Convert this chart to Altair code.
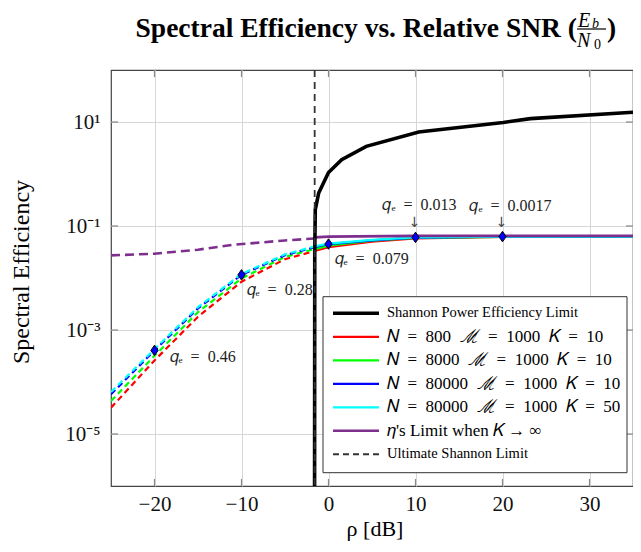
import json
import altair as alt
import pandas as pd

# ---------------- data ----------------
x_ticks = [-20, -10, 0, 10, 20, 30]
y_ticks = [1e-5, 1e-3, 1e-1, 1e1]
y_tick_exp = [-5, -3, -1, 1]
y_tick_text = ["10⁻⁵", "10⁻³", "10⁻¹", "10¹"]

shannon_x = [-1.6, -1.58, -1.52, -1.13, 0.0, 1.51, 4.34, 10.37, 20.08, 23.2, 35.0]
shannon_y = [1e-6, 0.030, 0.206, 0.43, 1.07, 1.88, 3.4, 6.4, 9.8, 11.6, 15.4]
ultimate_limit_x = [-1.59]

low_x = [-25, -20, -15, -10, -5, -1.6]
high_x = [-1.6, 0, 5, 10, 20, 35]
red_low = [3.2e-5, 2.6e-4, 1.8e-3, 8.5e-3, 0.023, 0.033]
red_high = [0.033, 0.039, 0.050, 0.058, 0.0615, 0.0625]
green_low = [4.3e-5, 3.2e-4, 2.2e-3, 9.8e-3, 0.0255, 0.036]
green_high = [0.036, 0.042, 0.052, 0.059, 0.062, 0.0628]
blue_low = [5.8e-5, 4.05e-4, 2.6e-3, 0.0115, 0.0275, 0.039]
blue_high = [0.039, 0.045, 0.053, 0.060, 0.0625, 0.063]
cyan_low = [6.4e-5, 4.3e-4, 2.75e-3, 0.012, 0.0285, 0.0405]
cyan_high = [0.0405, 0.046, 0.054, 0.0605, 0.0627, 0.0632]
purple_low_x = [-25, -20, -15, -11, -5, -1.6]
purple_low = [0.0272, 0.0293, 0.035, 0.0434, 0.0528, 0.0575]
purple_high_x = [-1.6, 0, 10, 35]
purple_high = [0.0605, 0.0625, 0.0645, 0.065]

marker_x = [-20, -10, 0, 10, 20]
marker_y = [4.05e-4, 0.0115, 0.045, 0.0604, 0.0625]
E = "\u2002"
marker_text = [f"𝑞ₑ{E}={E}0.46", f"𝑞ₑ{E}={E}0.28", f"𝑞ₑ{E}={E}0.079",
               f"𝑞ₑ{E}={E}0.013", f"𝑞ₑ{E}={E}0.0017"]

legend_text = [
    "Shannon Power Efficiency Limit",
    f"𝑁{E}={E}800{E}ℳ{E}={E}1000{E}𝐾{E}={E}10",
    f"𝑁{E}={E}8000{E}ℳ{E}={E}1000{E}𝐾{E}={E}10",
    f"𝑁{E}={E}80000{E}ℳ{E}={E}1000{E}𝐾{E}={E}10",
    f"𝑁{E}={E}80000{E}ℳ{E}={E}1000{E}𝐾{E}={E}50",
    "𝜂's Limit when 𝐾 → ∞",
    "Ultimate Shannon Limit",
]
legend_colors = ["#000000", "#ff0000", "#00ff00", "#0000ff", "#00ffff", "#7e2f8e", "#333333"]

# ---------------- layout ----------------
W, H = 522, 416
FONT = "Liberation Serif"
xs = alt.Scale(domain=[-25, 35], nice=False, zero=False)
ys = alt.Scale(type="log", domain=[1e-6, 1e2], nice=False)

label_expr = f"{json.dumps(y_tick_text, ensure_ascii=False)}[indexof({json.dumps(y_tick_exp)}, round(log(datum.value)/LN10))]"

xaxis = alt.Axis(values=x_ticks, title=None, grid=True, gridColor="#d6d6d6", gridWidth=1,
                 ticks=False, tickSize=0, domain=False, labelFont=FONT, labelFontSize=21,
                 labelColor="#111", labelPadding=7)
yaxis = alt.Axis(values=y_ticks, title=None, grid=True, gridColor="#d6d6d6", gridWidth=1,
                 ticks=False, tickSize=0, domain=False, labelFont=FONT, labelFontSize=21,
                 labelColor="#111", labelPadding=11, labelExpr=label_expr)


def X(field):
    return alt.X(f"{field}:Q", scale=xs, axis=xaxis)


def Y(field):
    return alt.Y(f"{field}:Q", scale=ys, axis=yaxis)


def line(xv, yv, color, width, dash=None):
    kw = dict(color=color, strokeWidth=width, clip=True)
    if dash:
        kw["strokeDash"] = dash
    return alt.Chart(pd.DataFrame({"x": xv, "y": yv})).mark_line(**kw).encode(x=X("x"), y=Y("y"))


def txt(s, x, y, size, weight="normal", style="normal", align="left", baseline="alphabetic",
        angle=0, color="#000"):
    return alt.Chart(pd.DataFrame({"t": [s]})).mark_text(
        align=align, baseline=baseline, font=FONT, fontSize=size, fontWeight=weight,
        fontStyle=style, angle=angle, color=color
    ).encode(x=alt.value(x), y=alt.value(y), text="t:N")


one = pd.DataFrame({"a": [0]})
layers = []

# inward ticks
ydf = pd.DataFrame({"v": y_ticks})
xdf = pd.DataFrame({"v": x_ticks})
tick_color = "#888888"
layers.append(alt.Chart(ydf).mark_rule(color=tick_color, strokeWidth=1.2).encode(
    y=Y("v"), x=alt.value(0), x2=alt.value(7)))
layers.append(alt.Chart(ydf).mark_rule(color=tick_color, strokeWidth=1.2).encode(
    y=Y("v"), x=alt.value(W - 7), x2=alt.value(W)))
layers.append(alt.Chart(xdf).mark_rule(color=tick_color, strokeWidth=1.2).encode(
    x=X("v"), y=alt.value(H - 7), y2=alt.value(H)))
layers.append(alt.Chart(xdf).mark_rule(color=tick_color, strokeWidth=1.2).encode(
    x=X("v"), y=alt.value(0), y2=alt.value(7)))

# curves
dash_c = [6, 4]
for lo, hi, col in [(red_low, red_high, "#ff0000"), (green_low, green_high, "#00ff00"),
                    (blue_low, blue_high, "#0000ff"), (cyan_low, cyan_high, "#00ffff")]:
    layers.append(line(low_x, lo, col, 2.2, dash_c))
    layers.append(line(high_x, hi, col, 2.2))

layers.append(line(purple_low_x, purple_low, "#7e2f8e", 2.6, [9, 5]))
layers.append(line(purple_high_x, purple_high, "#7e2f8e", 2.6))
layers.append(line(shannon_x, shannon_y, "#000000", 3.6))
layers.append(alt.Chart(pd.DataFrame({"x": ultimate_limit_x})).mark_rule(
    color="#333333", strokeWidth=1.8, strokeDash=[7, 5]).encode(x=X("x")))

# markers
mdf = pd.DataFrame({"x": marker_x, "y": marker_y, "t": marker_text})
layers.append(alt.Chart(mdf).mark_point(
    shape="M0,-1L0.7,0L0,1L-0.7,0Z", size=110, filled=True, fill="#0000ff", stroke="#000",
    strokeWidth=1, opacity=1).encode(x=X("x"), y=Y("y")))

# annotations (offsets in px from marker)
offs = [(15, 7, "left"), (5, 15, "left"), (6, 15, "left"), (4, -32, "center"), (8, -31, "center")]
for i, (dx, dy, al) in enumerate(offs):
    layers.append(alt.Chart(mdf.iloc[[i]]).mark_text(
        align=al, baseline="middle", dx=dx, dy=dy, font=FONT, fontSize=16, color="#222"
    ).encode(x=X("x"), y=Y("y"), text="t:N"))
for i in [3, 4]:
    layers.append(alt.Chart(mdf.iloc[[i]]).mark_text(
        align="center", baseline="middle", dx=-1, dy=-14, font="DejaVu Sans", fontSize=14,
        color="#444"
    ).encode(x=X("x"), y=Y("y"), text=alt.value("↓")))

# legend
layers.append(alt.Chart(one).mark_rect(fill="white", stroke="#333", strokeWidth=1).encode(
    x=alt.value(212), x2=alt.value(W - 6), y=alt.value(226.7), y2=alt.value(402.7)))
leg_w = [3.6, 2.2, 2.2, 2.2, 2.2, 2.6, 2.0]
for i, (lab, col) in enumerate(zip(legend_text, legend_colors)):
    yy = 243.3 + 23.5 * i
    kw = dict(color=col, strokeWidth=leg_w[i])
    if i == len(legend_text) - 1:
        kw["strokeDash"] = [6, 4]
    layers.append(alt.Chart(one).mark_rule(**kw).encode(
        x=alt.value(222), x2=alt.value(268), y=alt.value(yy)))
    layers.append(txt(lab, 276, yy, 14.5 if i in (0, 6) else 17, baseline="middle"))

# axis titles
layers.append(txt("Spectral Efficiency", -89, 202, 24, align="center", baseline="middle", angle=270))
layers.append(txt("ρ [dB]", 264, 459, 22, align="center", baseline="middle"))

# title
layers.append(txt("Spectral Efficiency vs. Relative SNR (", 466, -33, 27.5, weight="bold", align="right"))
layers.append(txt("E", 467, -43.5, 20, style="italic"))
layers.append(txt("b", 481, -42.5, 14, style="italic"))
layers.append(alt.Chart(one).mark_rule(color="#000", strokeWidth=1.2).encode(
    x=alt.value(466), x2=alt.value(495), y=alt.value(-41)))
layers.append(txt("N", 466, -23.5, 20, style="italic"))
layers.append(txt("0", 483, -21, 14))
layers.append(txt(")", 496, -33, 27.5, weight="bold"))

chart = alt.layer(*layers).properties(
    width=W, height=H,
    autosize=alt.AutoSizeParams(type="none"),
    padding={"left": 103, "top": 62, "right": 0, "bottom": 58},
).configure_view(stroke="#444", strokeWidth=1.2)

chart.save("out.html", embed_options={"renderer": "svg", "actions": False})
